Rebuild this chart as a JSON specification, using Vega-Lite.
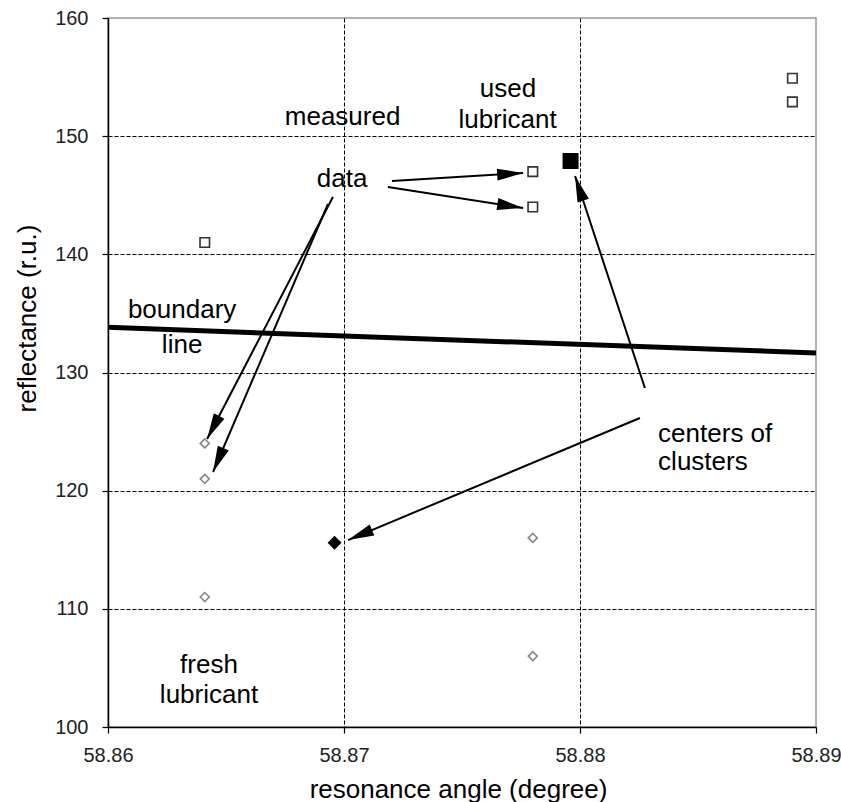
{
  "$schema": "https://vega.github.io/schema/vega-lite/v6.json",
  "width": 708,
  "height": 709,
  "autosize": "none",
  "padding": {"left": 108, "top": 18, "right": 25, "bottom": 75},
  "background": "white",
  "config": {
    "view": {"stroke": "#999", "strokeWidth": 1.5},
    "font": "Liberation Sans",
    "axis": {
      "domainColor": "#000",
      "domainWidth": 1.5,
      "tickColor": "#000",
      "tickWidth": 1.2,
      "tickSize": 6,
      "labelFont": "Liberation Sans",
      "labelFontSize": 20,
      "labelColor": "#222",
      "labelFlush": false,
      "labelOverlap": false,
      "titleFont": "Liberation Sans",
      "titleFontSize": 26,
      "titleFontWeight": "normal",
      "titleColor": "#000",
      "grid": true,
      "gridColor": "#000",
      "gridDash": [4, 2],
      "gridWidth": 1
    }
  },
  "datasets": {
    "points": [
      {"x": 58.8641, "y": 141, "group": "used"},
      {"x": 58.878, "y": 147, "group": "used"},
      {"x": 58.878, "y": 144, "group": "used"},
      {"x": 58.889, "y": 154.9, "group": "used"},
      {"x": 58.889, "y": 152.9, "group": "used"},
      {"x": 58.8641, "y": 124, "group": "fresh"},
      {"x": 58.8641, "y": 121, "group": "fresh"},
      {"x": 58.8641, "y": 111, "group": "fresh"},
      {"x": 58.878, "y": 116, "group": "fresh"},
      {"x": 58.878, "y": 106, "group": "fresh"},
      {"x": 58.8796, "y": 147.9, "group": "used center"},
      {"x": 58.8696, "y": 115.6, "group": "fresh center"}
    ],
    "boundary": [
      {"x": 58.86, "y": 133.82},
      {"x": 58.89, "y": 131.65}
    ],
    "arrows": [
      {"x0": 58.87203, "y0": 146.2, "x": 58.87759, "y": 146.88},
      {"x0": 58.87186, "y0": 145.7, "x": 58.87759, "y": 143.92},
      {"x0": 58.86953, "y0": 144.85, "x": 58.8642, "y": 124.37},
      {"x0": 58.86932, "y0": 144.26, "x": 58.86445, "y": 121.58},
      {"x0": 58.88275, "y0": 128.69, "x": 58.87979, "y": 146.63},
      {"x0": 58.88254, "y0": 126.15, "x": 58.87017, "y": 115.82}
    ],
    "labels": [
      {"x": 58.86994, "y": 150.94, "text": "measured"},
      {"x": 58.86992, "y": 145.7, "text": "data"},
      {"x": 58.87695, "y": 153.31, "text": "used"},
      {"x": 58.87693, "y": 150.69, "text": "lubricant"},
      {"x": 58.86314, "y": 134.61, "text": "boundary"},
      {"x": 58.86314, "y": 131.65, "text": "line"},
      {"x": 58.86428, "y": 104.57, "text": "fresh"},
      {"x": 58.86428, "y": 102.03, "text": "lubricant"}
    ],
    "labels_left": [
      {"x": 58.88331, "y": 124.12, "text": "centers of"},
      {"x": 58.88331, "y": 121.75, "text": "clusters"}
    ]
  },
  "encoding": {
    "x": {
      "field": "x",
      "type": "quantitative",
      "scale": {"domain": [58.86, 58.89], "nice": false, "zero": false},
      "axis": {
        "values": [58.86, 58.87, 58.88, 58.89],
        "format": ".2f",
        "title": "resonance angle (degree)",
        "labelPadding": 12,
        "titleX": 350,
        "titleY": 70,
        "titleAlign": "center",
        "titleBaseline": "alphabetic",
        "gridOpacity": {"condition": {"test": "datum.value > 58.885", "value": 0}, "value": 1}
      }
    },
    "y": {
      "field": "y",
      "type": "quantitative",
      "scale": {"domain": [100, 160], "nice": false, "zero": false},
      "axis": {
        "values": [100, 110, 120, 130, 140, 150, 160],
        "format": "d",
        "title": "reflectance (r.u.)",
        "labelPadding": 14,
        "titleX": -73,
        "titleY": 300,
        "titleAngle": -90,
        "titleAlign": "center",
        "titleBaseline": "alphabetic",
        "gridOpacity": {"condition": {"test": "datum.value > 155", "value": 0}, "value": 1}
      }
    }
  },
  "layer": [
    {
      "data": {"name": "boundary"},
      "mark": {"type": "line", "color": "#000", "strokeWidth": 5, "clip": true},
      "encoding": {}
    },
    {
      "data": {"name": "arrows"},
      "mark": {"type": "rule", "color": "#000", "strokeWidth": 2},
      "encoding": {
        "x2": {"field": "x0"},
        "y2": {"field": "y0"}
      }
    },
    {
      "data": {"name": "arrows"},
      "transform": [
        {"calculate": "atan2((datum.x - datum.x0) * 23600, (datum.y - datum.y0) * 11.817) * 180 / PI", "as": "angle"}
      ],
      "mark": {"type": "point", "shape": "M0,0L-0.46,2L0.46,2Z", "filled": true, "color": "#000", "size": 676, "opacity": 1},
      "encoding": {
        "angle": {"field": "angle", "type": "quantitative", "scale": null}
      }
    },
    {
      "data": {"name": "points"},
      "transform": [{"filter": "datum.group === 'used'"}],
      "mark": {"type": "point", "shape": "square", "filled": false, "stroke": "#333", "strokeWidth": 1.6, "size": 90, "opacity": 1, "fill": "white", "fillOpacity": 1}
    },
    {
      "data": {"name": "points"},
      "transform": [{"filter": "datum.group === 'fresh'"}],
      "mark": {"type": "point", "shape": "diamond", "filled": false, "stroke": "#888", "strokeWidth": 1.6, "size": 81, "opacity": 1, "fill": "white", "fillOpacity": 1}
    },
    {
      "data": {"name": "points"},
      "transform": [{"filter": "datum.group === 'used center'"}],
      "mark": {"type": "point", "shape": "square", "filled": true, "color": "#000", "size": 256, "opacity": 1}
    },
    {
      "data": {"name": "points"},
      "transform": [{"filter": "datum.group === 'fresh center'"}],
      "mark": {"type": "point", "shape": "diamond", "filled": true, "color": "#000", "size": 196, "opacity": 1}
    },
    {
      "data": {"name": "labels"},
      "mark": {"type": "text", "align": "center", "baseline": "alphabetic", "fontSize": 26, "color": "#000", "font": "Liberation Sans"},
      "encoding": {"text": {"field": "text"}}
    },
    {
      "data": {"name": "labels_left"},
      "mark": {"type": "text", "align": "left", "baseline": "alphabetic", "fontSize": 26, "color": "#000", "font": "Liberation Sans"},
      "encoding": {"text": {"field": "text"}}
    }
  ]
}
